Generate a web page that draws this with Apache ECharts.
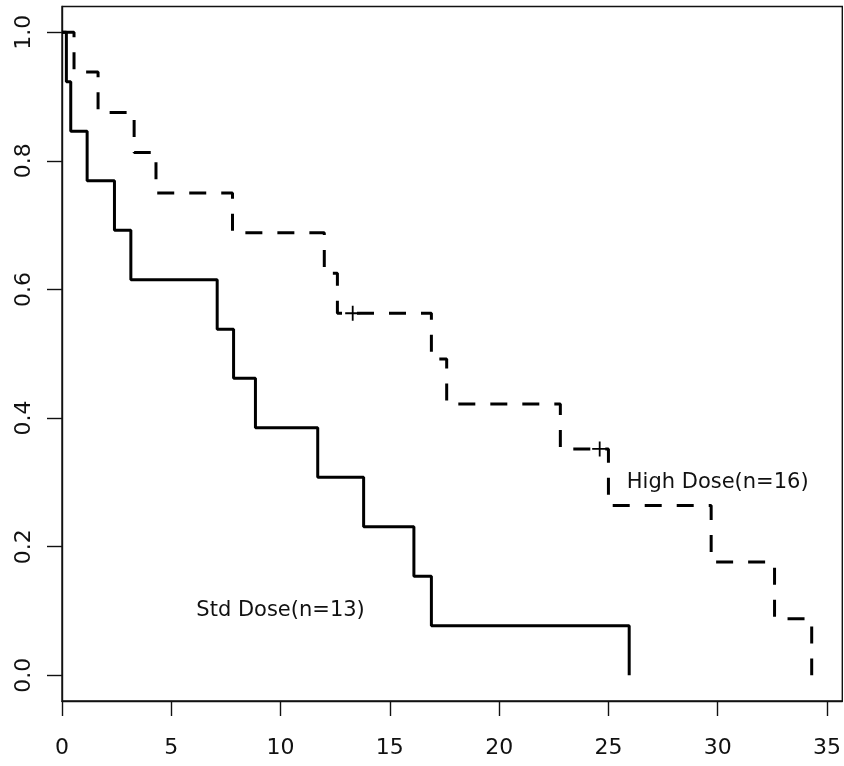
<!DOCTYPE html>
<html>
<head>
<meta charset="utf-8">
<script src="https://cdn.jsdelivr.net/npm/echarts@6/dist/echarts.min.js"></script>
<style>
  html, body { margin: 0; padding: 0; background: #fff; }
  #chart { width: 844px; height: 766px; }
</style>
</head>
<body>
<div id="chart"></div>
<script>
// Std Dose (solid) - times of drops and survival after each drop
const stdTimes = [0, 0.2, 0.4, 1.15, 2.4, 3.15, 7.1, 7.85, 8.85, 11.7, 13.8, 16.1, 16.9, 25.95]
const stdSurv = [1, 0.923, 0.846, 0.769, 0.692, 0.615, 0.538, 0.462, 0.385, 0.308, 0.231, 0.154, 0.077, 0]

// High Dose (dashed)
const highTimes = [0, 0.55, 1.65, 3.3, 4.3, 7.8, 12.0, 12.6, 16.9, 17.6, 22.8, 25.0, 29.7, 32.6, 34.3]
const highSurv = [1, 0.938, 0.875, 0.813, 0.75, 0.688, 0.625, 0.563, 0.492, 0.422, 0.352, 0.264, 0.176, 0.088, 0]

// censored observations on the High Dose curve
const censorTimes = [13.3, 24.6]
const censorSurv = [0.563, 0.352]

const xTicks = [0, 5, 10, 15, 20, 25, 30, 35]
const yTicks = [0, 0.2, 0.4, 0.6, 0.8, 1.0]

const labels = [
  { name: 'Std Dose(n=13)', x: 10, y: 0.1 },
  { name: 'High Dose(n=16)', x: 30, y: 0.3 },
]

const zip = (a, b) => a.map((v, i) => [v, b[i]])

const chart = echarts.init(document.getElementById('chart'))
const font = 'DejaVu Sans'

chart.setOption({
  animation: false,
  grid: {
    left: 62,
    right: 1.5,
    top: 6.5,
    bottom: 65,
    show: true,
    borderColor: '#111',
    borderWidth: 1.4,
  },
  xAxis: {
    type: 'value',
    min: 0,
    max: 35.7,
    position: 'bottom',
    splitLine: { show: false },
    axisLine: { show: true, onZero: false, lineStyle: { color: '#111', width: 1.4 } },
    axisTick: {
      show: true,
      length: 15,
      customValues: xTicks,
      lineStyle: { color: '#111', width: 1.4 },
    },
    axisLabel: {
      customValues: xTicks,
      margin: 36,
      color: '#111',
      fontFamily: font,
      fontSize: 22,
    },
  },
  yAxis: {
    type: 'value',
    min: -0.04,
    max: 1.04,
    splitLine: { show: false },
    axisLine: { show: true, onZero: false, lineStyle: { color: '#111', width: 1.4 } },
    axisTick: {
      show: true,
      length: 15,
      customValues: yTicks,
      lineStyle: { color: '#111', width: 1.4 },
    },
    axisLabel: {
      customValues: yTicks,
      rotate: 90,
      margin: 27,
      color: '#111',
      fontFamily: font,
      fontSize: 22,
      formatter: (v) => v.toFixed(1),
    },
  },
  series: [
    {
      name: 'Std Dose',
      type: 'line',
      step: 'end',
      data: zip(stdTimes, stdSurv),
      showSymbol: false,
      lineStyle: { color: '#000', width: 3 },
    },
    {
      name: 'High Dose',
      type: 'line',
      step: 'end',
      data: zip(highTimes, highSurv),
      showSymbol: false,
      lineStyle: { color: '#000', width: 3, type: [17, 15] },
    },
    {
      name: 'censored',
      type: 'scatter',
      data: zip(censorTimes, censorSurv),
      symbol: 'path://M4.4,0h1.2v4.4h4.4v1.2h-4.4v4.4h-1.2v-4.4h-4.4v-1.2h4.4z',
      symbolSize: 15,
      itemStyle: { color: '#000', opacity: 1 },
    },
    {
      name: 'labels',
      type: 'scatter',
      symbolSize: 0,
      itemStyle: { opacity: 1 },
      data: labels.map((d) => ({ name: d.name, value: [d.x, d.y] })),
      label: {
        show: true,
        position: 'inside',
        formatter: '{b}',
        color: '#111',
        textBorderWidth: 0,
        fontFamily: font,
        fontSize: 21,
      },
    },
  ],
})
</script>
</body>
</html>
